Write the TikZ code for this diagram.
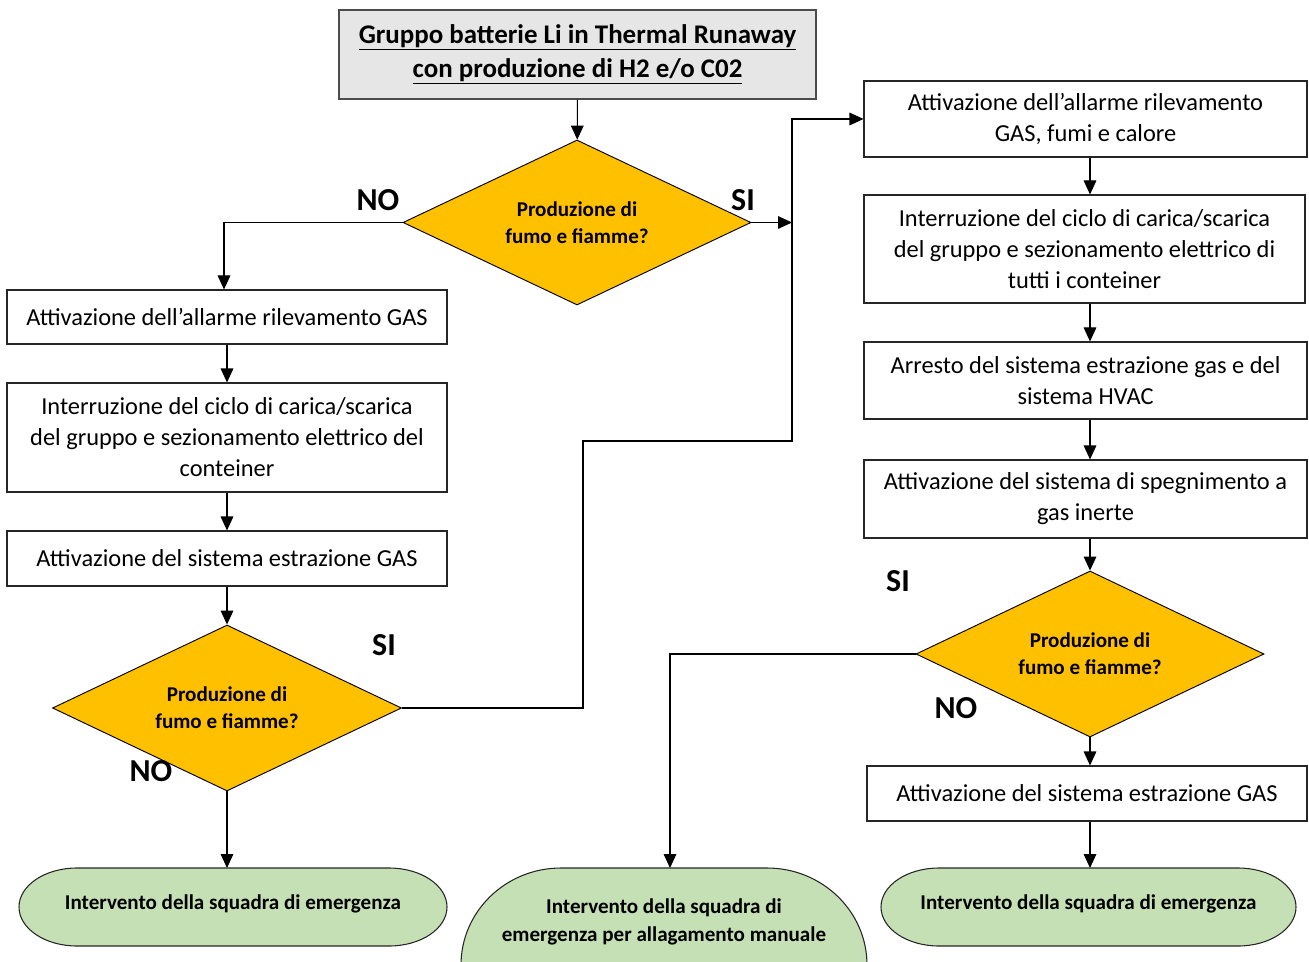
\documentclass[tikz,border=0pt]{standalone}
\usepackage{fontspec}
\setmainfont{Carlito}
\usetikzlibrary{calc,shapes.geometric,arrows.meta}
\definecolor{giallo}{HTML}{FFC000}
\definecolor{verde}{HTML}{C5E0B4}
\definecolor{grigio}{HTML}{E7E6E6}
\newdimen\px \px=0.75pt
\tikzset{
	box/.style={draw=black!85, line width=0.8pt, fill=white, inner sep=0pt, align=center, font=\fontsize{18.3}{23.25}\selectfont},
	rombo/.style={diamond, aspect=2.1, draw=black, line width=0.7pt, fill=giallo, inner sep=0pt, align=center, font=\fontsize{15.8}{20}\selectfont\bfseries},
	term/.style={draw=black!85, line width=0.8pt, fill=verde},
	termtxt/.style={inner sep=0pt, align=center, font=\fontsize{15.8}{21}\selectfont\bfseries},
	scelta/.style={inner sep=0pt, font=\fontsize{24}{24}\selectfont\bfseries},
	freccia/.style={line width=0.8pt, -{Triangle[length=10.5pt,width=9.5pt]}}
}
\begin{document}
\begin{tikzpicture}[x=0.75pt, y=-0.75pt]
		%%%%% START %%%%%
		\clip (0,0) rectangle (1309,962);
		
		% titolo
		\node[box, fill=grigio, draw=black!70, minimum width=477\px, minimum height=89\px, font=\fontsize{20.2}{25.5}\selectfont\bfseries] (titolo) at (577.5,54.5)
			{\underline{Gruppo batterie Li in Thermal Runaway}\\\underline{con produzione di H2 e/o C02}};
		\node[rombo, minimum width=348\px, minimum height=165\px] (d1) at (577,222.5) {Produzione di\\fumo e fiamme?};
		
		% colonna sinistra
		\node[box, minimum width=440\px, minimum height=54\px] (L1) at (227,317) {Attivazione dell’allarme rilevamento GAS};
		\node[box, minimum width=440\px, minimum height=109\px] (L2) at (227,437.5)
			{Interruzione del ciclo di carica/scarica\\del gruppo e sezionamento elettrico del\\conteiner};
		\node[box, minimum width=440\px, minimum height=55\px] (L3) at (227,558.5) {Attivazione del sistema estrazione GAS};
		\node[rombo, minimum width=349\px, minimum height=166\px] (d2) at (227,708) {Produzione di\\fumo e fiamme?};
		
		% colonna destra
		\node[box, minimum width=443\px, minimum height=76\px] (R1) at (1085.5,119) {Attivazione dell’allarme rilevamento\\GAS, fumi e calore};
		\node[box, minimum width=441\px, minimum height=108\px] (R2) at (1084.5,249)
			{Interruzione del ciclo di carica/scarica\\del gruppo e sezionamento elettrico di\\tutti i conteiner};
		\node[box, minimum width=443\px, minimum height=77\px] (R3) at (1085.5,380.5) {Arresto del sistema estrazione gas e del\\sistema HVAC};
		\node[box, minimum width=443\px, minimum height=78\px] (R4) at (1085.5,499) {Attivazione del sistema di spegnimento a\\gas inerte};
		\node[rombo, minimum width=348\px, minimum height=166\px] (d3) at (1090,654) {Produzione di\\fumo e fiamme?};
		\node[box, minimum width=440\px, minimum height=55\px] (R5) at (1087,793.5) {Attivazione del sistema estrazione GAS};
		
		% terminali
		\draw[term] (77,868) -- (389,868) arc[start angle=-90, end angle=90, x radius=58, y radius=39] -- (77,946) arc[start angle=90, end angle=270, x radius=58, y radius=39] -- cycle;
		\node[termtxt] (TL) at (233,904) {Intervento della squadra di emergenza};
		\coordinate (TLtop) at (227,868);
		
		\draw[term] (561,868) -- (767,868) arc[start angle=-90, end angle=90, x radius=100, y radius=97] -- (561,1062) arc[start angle=90, end angle=270, x radius=100, y radius=97] -- cycle;
		\node[termtxt] (TM) at (664,922) {Intervento della squadra di\\emergenza per allagamento manuale};
		\coordinate (TMtop) at (670,868);
		
		\draw[term] (939,868) -- (1238,868) arc[start angle=-90, end angle=90, x radius=58, y radius=39] -- (939,946) arc[start angle=90, end angle=270, x radius=58, y radius=39] -- cycle;
		\node[termtxt] (TR) at (1088.5,904) {Intervento della squadra di emergenza};
		\coordinate (TRtop) at (1090,868);
		
		% etichette SI / NO
		\node[scelta] (no1) at (378,200) {NO};
		\node[scelta] (si1) at (743,200) {SI};
		\node[scelta] (si2) at (384,645) {SI};
		\node[scelta] (no2) at (151,771) {NO};
		\node[scelta] (si3) at (898,581) {SI};
		\node[scelta] (no3) at (956,708) {NO};
		
		% collegamenti
		\coordinate (k1) at (583,441);
		\coordinate (k2) at (792,441);
		
		\draw[freccia] (titolo) -- (d1);
		\draw[freccia] (d1.west) -| ($(L1.north)+(-3,0)$);
		\draw[freccia] (d1.east) -- (d1.east -| k2);
		\draw[freccia] (L1) -- (L2);
		\draw[freccia] (L2) -- (L3);
		\draw[freccia] (L3) -- (d2);
		\draw[freccia] (d2.south) -- (TLtop);
		\draw[freccia] (d2.east) -| (k1) -- (k2) |- (R1.west);
		
		\draw[freccia] (R1.south -| d3) -- (R2.north -| d3);
		\draw[freccia] (R2.south -| d3) -- (R3.north -| d3);
		\draw[freccia] (R3.south -| d3) -- (R4.north -| d3);
		\draw[freccia] (R4.south -| d3) -- (d3.north);
		\draw[freccia] (d3.south) -- (R5.north -| d3);
		\draw[freccia] (R5.south -| TRtop) -- (TRtop);
		\draw[freccia] (d3.west) -| (TMtop);
		%%%%% END %%%%%
\end{tikzpicture}
\end{document}
